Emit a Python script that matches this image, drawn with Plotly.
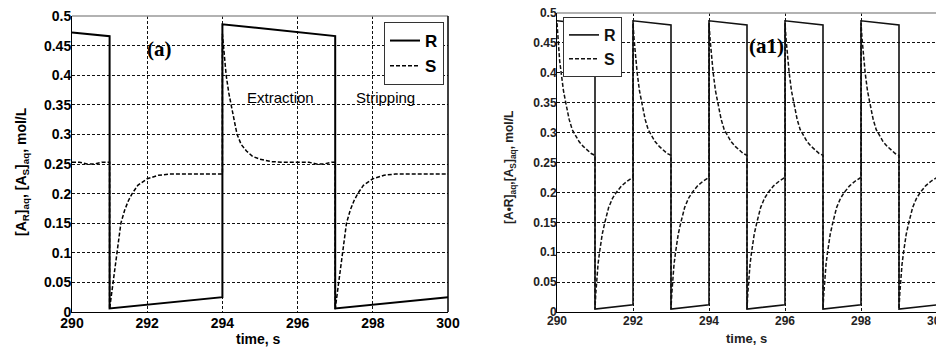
import plotly.graph_objects as go

# ---------------- data: panel (a) ----------------
a_R_t = [290, 291, 291, 294, 294, 297, 297, 300]
a_R_v = [0.472, 0.466, 0.006, 0.025, 0.486, 0.466, 0.006, 0.025]

a_S_t = [290, 290.2, 290.4, 290.6, 290.8, 291, 291,
         291.05, 291.1, 291.15, 291.19, 291.25, 291.3, 291.4, 291.5, 291.6, 291.75, 292.0, 292.3, 292.6, 294,
         294, 294.05, 294.1, 294.17, 294.24, 294.32, 294.39, 294.5, 294.64, 294.8, 295.0, 295.3, 295.6,
         296.3, 296.5, 296.7, 296.9, 297, 297,
         297.05, 297.1, 297.15, 297.19, 297.25, 297.3, 297.4, 297.5, 297.6, 297.75, 298.0, 298.3, 298.6, 300]
a_S_v = [0.253, 0.253, 0.250, 0.250, 0.253, 0.253, 0.005,
         0.03, 0.06, 0.085, 0.10, 0.13, 0.15, 0.172, 0.188, 0.20, 0.214, 0.225, 0.231, 0.233, 0.233,
         0.47, 0.43, 0.40, 0.37, 0.35, 0.322, 0.30, 0.283, 0.272, 0.263, 0.258, 0.254, 0.253,
         0.253, 0.250, 0.250, 0.253, 0.253, 0.005,
         0.03, 0.06, 0.085, 0.10, 0.13, 0.15, 0.172, 0.188, 0.20, 0.214, 0.225, 0.231, 0.233, 0.233]

# ---------------- data: panel (a1) ----------------
a1_extraction_starts = [290, 292, 294, 296, 298]
a1_stripping_starts = [291, 293, 295, 297, 299]

a1_R_ext_dt = [0, 1]
a1_R_ext_v = [0.487, 0.480]
a1_R_str_dt = [0, 1]
a1_R_str_v = [0.005, 0.012]

a1_S_ext_dt = [0, 0.03, 0.07, 0.11, 0.17, 0.23, 0.32, 0.40, 0.47, 0.58, 0.69, 0.80, 0.90, 1.0]
a1_S_ext_v = [0.483, 0.455, 0.42, 0.40, 0.37, 0.35, 0.322, 0.305, 0.297, 0.285, 0.277, 0.270, 0.265, 0.262]
a1_S_str_dt = [0, 0.02, 0.04, 0.08, 0.12, 0.19, 0.26, 0.36, 0.46, 0.56, 0.70, 0.85, 1.0]
a1_S_str_v = [0.005, 0.03, 0.05, 0.08, 0.10, 0.13, 0.15, 0.175, 0.19, 0.20, 0.211, 0.219, 0.225]

x_ticks = [290, 292, 294, 296, 298, 300]
y_ticks = [0, 0.05, 0.1, 0.15, 0.2, 0.25, 0.3, 0.35, 0.4, 0.45, 0.5]
y_tick_text = ["0", "0.05", "0.1", "0.15", "0.2", "0.25", "0.3", "0.35", "0.4", "0.45", "0.5"]


def build_cycles(ext_starts, str_starts, ext_dt, ext_v, str_dt, str_v):
    starts = sorted([(s, "e") for s in ext_starts] + [(s, "s") for s in str_starts])
    ts, vs = [], []
    for s, kind in starts:
        dts, vals = (ext_dt, ext_v) if kind == "e" else (str_dt, str_v)
        for d, v in zip(dts, vals):
            ts.append(s + d)
            vs.append(v)
    return ts, vs


a1_R_t, a1_R_v = build_cycles(a1_extraction_starts, a1_stripping_starts,
                              a1_R_ext_dt, a1_R_ext_v, a1_R_str_dt, a1_R_str_v)
a1_S_t, a1_S_v = build_cycles(a1_extraction_starts, a1_stripping_starts,
                              a1_S_ext_dt, a1_S_ext_v, a1_S_str_dt, a1_S_str_v)

# page body has an 8px margin: figure occupies screen px 8..944 x 8..347
OFF = 8
W, H = 944 - OFF, 347 - OFF


def px(x):
    return (x - OFF) / W


def py(y):
    return 1 - (y - OFF) / H


fig = go.Figure()

fig.add_trace(go.Scatter(x=a_R_t, y=a_R_v, mode="lines", name="R",
                         line=dict(color="black", width=2), xaxis="x", yaxis="y", legend="legend"))
fig.add_trace(go.Scatter(x=a_S_t, y=a_S_v, mode="lines", name="S",
                         line=dict(color="black", width=1.5, dash="4px,2px"), xaxis="x", yaxis="y", legend="legend"))
fig.add_trace(go.Scatter(x=a1_R_t, y=a1_R_v, mode="lines", name="R",
                         line=dict(color="#111", width=1.6), xaxis="x2", yaxis="y2", legend="legend2"))
fig.add_trace(go.Scatter(x=a1_S_t, y=a1_S_v, mode="lines", name="S",
                         line=dict(color="#111", width=1.5, dash="4px,2px"), xaxis="x2", yaxis="y2", legend="legend2"))

grid_common = dict(showgrid=True, gridcolor="#111", gridwidth=1, griddash="3px,2px",
                   showline=True, linecolor="black", linewidth=1, zeroline=False,
                   ticks="", fixedrange=True, automargin=False, ticklabeloverflow="allow")

fig.update_layout(
    width=W, height=H,
    margin=dict(l=0, r=0, t=0, b=0, autoexpand=False),
    paper_bgcolor="white", plot_bgcolor="white",
    showlegend=True,
    xaxis=dict(domain=[px(72), px(448)], range=[290, 300], tickvals=x_ticks,
               ticktext=[str(v) for v in x_ticks], anchor="y", ticklabelstandoff=-2,
               tickfont=dict(family="Liberation Sans, Arial", size=14, color="black", weight="bold"),
               **grid_common),
    yaxis=dict(domain=[py(312), py(16)], range=[0, 0.5], tickvals=y_ticks,
               ticktext=y_tick_text, anchor="x", ticklabelstandoff=-3,
               tickfont=dict(family="Liberation Sans, Arial", size=14, color="black", weight="bold"),
               **grid_common),
    xaxis2=dict(domain=[px(557), px(937)], range=[290, 300], tickvals=x_ticks,
                ticktext=[str(v) for v in x_ticks], anchor="y2", ticklabelstandoff=-2,
                tickfont=dict(family="Liberation Sans, Arial", size=12, color="#222", weight="bold"),
                **grid_common),
    yaxis2=dict(domain=[py(312), py(13)], range=[0, 0.5], tickvals=y_ticks,
                ticktext=y_tick_text, anchor="x2", ticklabelstandoff=-3,
                tickfont=dict(family="Liberation Sans, Arial", size=12, color="#222", weight="bold"),
                **grid_common),
    legend=dict(x=px(444), y=py(22), xanchor="right", yanchor="top",
                bgcolor="white", bordercolor="#333", borderwidth=1,
                font=dict(family="Liberation Sans, Arial", size=17, color="black", weight="bold")),
    legend2=dict(x=px(563), y=py(17), xanchor="left", yanchor="top",
                 bgcolor="white", bordercolor="#333", borderwidth=1,
                 font=dict(family="Liberation Sans, Arial", size=16, color="#111", weight="bold")),
)

# top / right frame lines
for xr, yr, rc in [("x domain", "y domain", "black"), ("x2 domain", "y2 domain", "#888")]:
    fig.add_shape(type="line", xref=xr, yref=yr, x0=0, x1=1, y0=1, y1=1,
                  line=dict(color="#999", width=1.5))
    fig.add_shape(type="line", xref=xr, yref=yr, x0=1, x1=1, y0=0, y1=1,
                  line=dict(color=rc, width=1.5))

C = dict(showarrow=False, xanchor="center", yanchor="middle")
ann_font_b = dict(family="Liberation Sans, Arial", size=14, color="black", weight="bold")
fig.add_annotation(x=292.33, y=0.445, xref="x", yref="y", text="<b>(a)</b>",
                   font=dict(family="Liberation Serif, Times New Roman", size=21, color="black"), **C)
fig.add_annotation(x=295.5, y=0.445, xref="x2", yref="y2", text="<b>(a1)</b>",
                   font=dict(family="Liberation Serif, Times New Roman", size=21, color="black"), **C)
fig.add_annotation(x=295.54, y=0.362, xref="x", yref="y", text="Extraction",
                   font=dict(family="Liberation Sans, Arial", size=15, color="black"), **C)
fig.add_annotation(x=298.33, y=0.362, xref="x", yref="y", text="Stripping",
                   font=dict(family="Liberation Sans, Arial", size=15, color="black"), **C)

fig.add_annotation(x=px(258), y=py(339), xref="paper", yref="paper", text="time, s",
                   font=ann_font_b, **C)
fig.add_annotation(x=px(746), y=py(338), xref="paper", yref="paper", text="time, s",
                   font=dict(family="Liberation Sans, Arial", size=13, color="#222", weight="bold"), **C)
fig.add_annotation(x=px(22), y=py(172), xref="paper", yref="paper",
                   text="[A<sub>R</sub>]<sub>aq</sub>, [A<sub>S</sub>]<sub>aq</sub>, mol/L",
                   textangle=-90, font=ann_font_b, **C)
fig.add_annotation(x=px(510), y=py(168), xref="paper", yref="paper",
                   text="[A\u2022R]<sub>aq</sub>,[A<sub>S</sub>]<sub>aq</sub>, mol/L",
                   textangle=-90,
                   font=dict(family="Liberation Sans, Arial", size=12, color="#222", weight="bold"), **C)

fig.write_html("out.html")
